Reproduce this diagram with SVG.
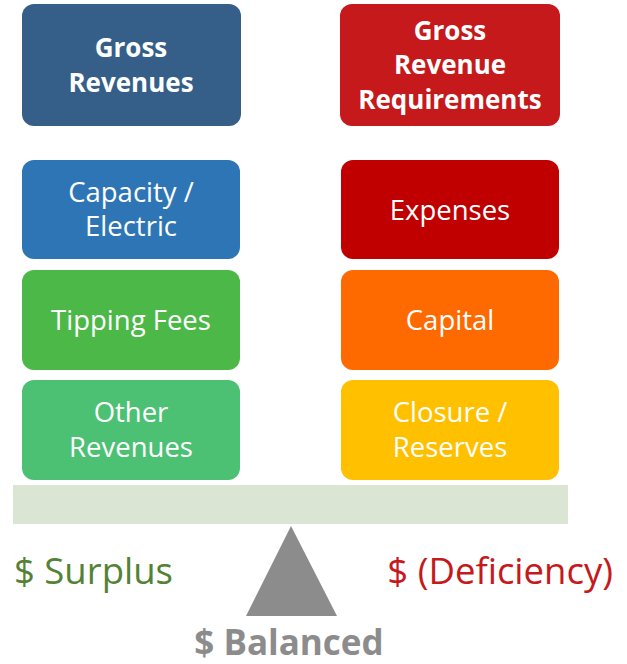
<svg xmlns="http://www.w3.org/2000/svg" width="627" height="664" viewBox="0 0 627 664">
<style>
.box{stroke:none}
.t{font-family:"Open Sans","Liberation Sans",sans-serif;fill:#ffffff;text-anchor:middle;font-size:27.5px}
.b{font-weight:bold}
.h{font-size:26px}
.big{font-family:"Open Sans","Liberation Sans",sans-serif;font-size:36.5px}
</style>
<rect width="627" height="664" fill="#ffffff"/>
<g id="gross-revenues">
<rect class="box" x="22" y="4" width="219" height="122" rx="12" fill="#355f88"/>
<text class="t b h" x="131" y="57">Gross</text>
<text class="t b h" x="131" y="92">Revenues</text>
</g>
<g id="gross-revenue-requirements">
<rect class="box" x="340" y="4" width="220" height="122" rx="12" fill="#c5191b"/>
<text class="t b h" x="450" y="40">Gross</text>
<text class="t b h" x="450" y="74">Revenue</text>
<text class="t b h" x="450" y="109">Requirements</text>
</g>
<g id="capacity-electric">
<rect class="box" x="22" y="160" width="218" height="99" rx="12" fill="#2e75b6"/>
<text class="t" x="131" y="202">Capacity /</text>
<text class="t" x="131" y="236">Electric</text>
</g>
<g id="tipping-fees">
<rect class="box" x="22" y="270" width="218" height="100" rx="12" fill="#4cb848"/>
<text class="t" x="131" y="330">Tipping Fees</text>
</g>
<g id="other-revenues">
<rect class="box" x="22" y="380" width="218" height="100" rx="12" fill="#4cc174"/>
<text class="t" x="131" y="422">Other</text>
<text class="t" x="131" y="457">Revenues</text>
</g>
<g id="expenses">
<rect class="box" x="341" y="160" width="218" height="99" rx="12" fill="#c00000"/>
<text class="t" x="450" y="220">Expenses</text>
</g>
<g id="capital">
<rect class="box" x="341" y="270" width="218" height="100" rx="12" fill="#ff6a00"/>
<text class="t" x="450" y="330">Capital</text>
</g>
<g id="closure-reserves">
<rect class="box" x="341" y="380" width="218" height="100" rx="12" fill="#ffc000"/>
<text class="t" x="450" y="422">Closure /</text>
<text class="t" x="450" y="457">Reserves</text>
</g>
<g id="beam">
<rect x="13" y="485" width="555" height="39" fill="#dbe5d4"/>
</g>
<g id="fulcrum">
<polygon points="291,526 246,616 337,616" fill="#8c8c8c"/>
</g>
<g id="connectors"></g>
<text class="big" x="14" y="584" fill="#548235">$ Surplus</text>
<text class="big" x="613" y="584" fill="#c5191b" text-anchor="end">$ (Deficiency)</text>
<text class="big b" x="289" y="655" fill="#8c8c8c" text-anchor="middle" style="font-size:35px">$ Balanced</text>
</svg>
